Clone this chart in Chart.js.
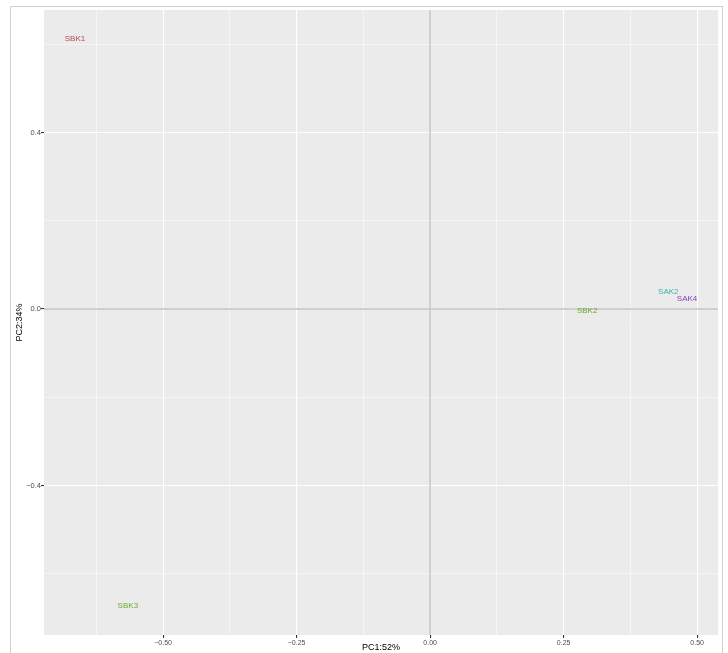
<!DOCTYPE html>
<html>
<head>
<meta charset="utf-8">
<script src="https://cdn.jsdelivr.net/npm/chart.js@4/dist/chart.umd.min.js"></script>
<style>
  html, body { margin: 0; padding: 0; background: #fff; }
  #wrap { width: 728px; height: 653px; }
</style>
</head>
<body>
<div id="wrap"><canvas id="pca"></canvas></div>
<script>
  // PCA sample scores
  var sampleNames = ['SBK1', 'SBK2', 'SBK3', 'SAK2', 'SAK4'];
  var pc1 = [-0.665, 0.294, -0.566, 0.446, 0.481];
  var pc2 = [0.613, -0.005, -0.673, 0.039, 0.023];
  var groupColors = ['#b8474a', '#6aaa2e', '#6aaa2e', '#3fb0b0', '#8141b3'];

  var xTicks = [-0.5, -0.25, 0, 0.25, 0.5];
  var xMinor = [-0.625, -0.375, -0.125, 0.125, 0.375];
  var yTicks = [-0.4, 0, 0.4];
  var yMinor = [-0.6, -0.2, 0.2, 0.6];

  var minus = function (s) { return s.replace('-', '\u2212'); };
  var isMajor = function (list, v) {
    return list.some(function (t) { return Math.abs(t - v) < 1e-9; });
  };
  var setTicks = function (major, minor) {
    return function (scale) {
      scale.ticks = major.concat(minor).sort(function (a, b) { return a - b; })
        .map(function (v) { return { value: v }; });
    };
  };
  var gridOpts = function (major) {
    return {
      color: '#ffffff',
      lineWidth: function (c) { return isMajor(major, c.tick.value) ? 1.1 : 0.5; },
      tickColor: function (c) { return isMajor(major, c.tick.value) ? '#333333' : 'rgba(0,0,0,0)'; },
      tickLength: 3,
      drawTicks: true
    };
  };

  var panel = {
    id: 'panel',
    beforeDraw: function (chart) {
      var ctx = chart.ctx, a = chart.chartArea;
      ctx.save();
      ctx.fillStyle = '#ebebeb';
      ctx.fillRect(a.left, a.top, a.right - a.left, a.bottom - a.top);
      ctx.strokeStyle = '#d0d0d0';
      ctx.lineWidth = 1;
      ctx.strokeRect(10.5, 6.5, 712, 660);
      ctx.restore();
    },
    afterDatasetsDraw: function (chart) {
      var ctx = chart.ctx;
      var meta = chart.getDatasetMeta(2);
      ctx.save();
      ctx.font = '8px "Liberation Sans", Arial, sans-serif';
      ctx.textAlign = 'center';
      ctx.textBaseline = 'middle';
      meta.data.forEach(function (pt, i) {
        ctx.fillStyle = groupColors[i];
        ctx.fillText(sampleNames[i], pt.x, pt.y);
      });
      ctx.restore();
    }
  };

  new Chart(document.getElementById('pca'), {
    type: 'scatter',
    data: {
      datasets: [
        {
          type: 'line',
          data: [{ x: -1, y: 0 }, { x: 1, y: 0 }],
          borderColor: '#c2c2c2', borderWidth: 1.4, pointRadius: 0
        },
        {
          type: 'line',
          data: [{ x: 0, y: -1 }, { x: 0, y: 1 }],
          borderColor: '#c2c2c2', borderWidth: 1.4, pointRadius: 0
        },
        {
          data: pc1.map(function (v, i) { return { x: v, y: pc2[i] }; }),
          pointRadius: 0, pointHoverRadius: 0
        }
      ]
    },
    options: {
      responsive: true,
      maintainAspectRatio: false,
      animation: false,
      events: [],
      layout: { padding: { left: 0, right: 10, top: 10, bottom: 0 } },
      plugins: { legend: { display: false }, tooltip: { enabled: false } },
      scales: {
        x: {
          type: 'linear', min: -0.723, max: 0.539,
          afterBuildTicks: setTicks(xTicks, xMinor),
          afterFit: function (s) { s.height = 18; },
          grid: gridOpts(xTicks),
          border: { display: false },
          ticks: {
            autoSkip: false, maxRotation: 0, padding: 1,
            color: '#4d4d4d',
            font: { family: '"Liberation Sans", Arial, sans-serif', size: 7 },
            callback: function (v) { return isMajor(xTicks, v) ? minus(v.toFixed(2)) : ''; }
          },
          title: {
            display: true, text: 'PC1:52%', color: '#000',
            font: { family: '"Liberation Sans", Arial, sans-serif', size: 9 },
            padding: { top: -1, bottom: 0 }
          }
        },
        y: {
          type: 'linear', min: -0.739, max: 0.678,
          afterBuildTicks: setTicks(yTicks, yMinor),
          afterFit: function (s) { s.width = 44; },
          grid: gridOpts(yTicks),
          border: { display: false },
          ticks: {
            autoSkip: false, padding: 0,
            color: '#4d4d4d',
            font: { family: '"Liberation Sans", Arial, sans-serif', size: 7.5 },
            callback: function (v) { return isMajor(yTicks, v) ? minus(v.toFixed(1)) : ''; }
          },
          title: {
            display: true, text: 'PC2:34%', color: '#000',
            font: { family: '"Liberation Sans", Arial, sans-serif', size: 9 },
            padding: { top: 14, bottom: 0 }
          }
        }
      }
    },
    plugins: [panel]
  });
</script>
</body>
</html>
